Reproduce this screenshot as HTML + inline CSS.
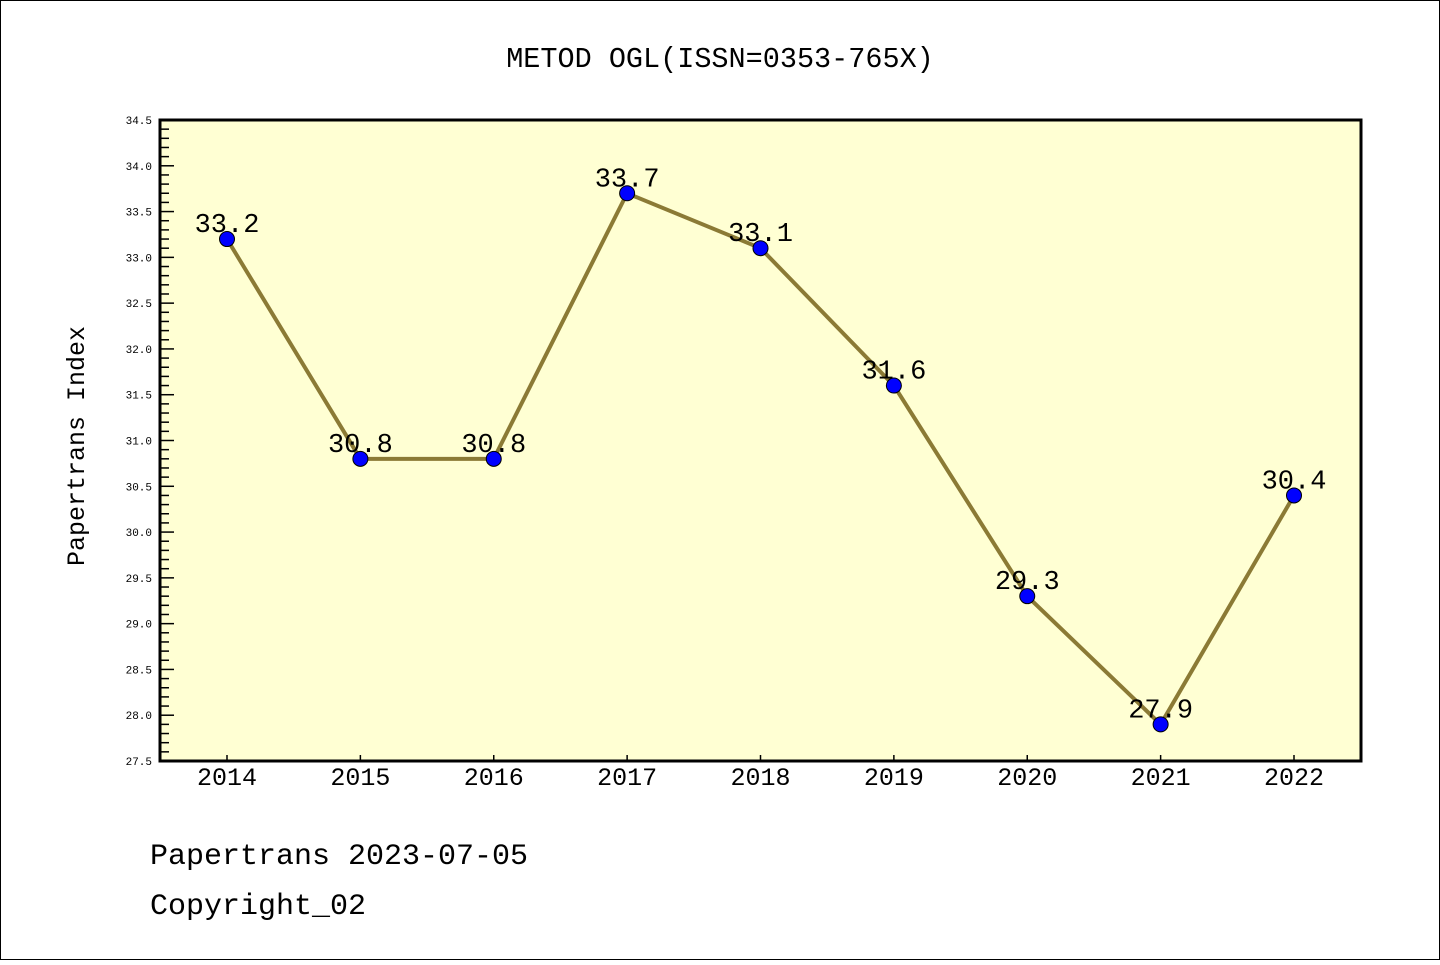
<!DOCTYPE html>
<html><head><meta charset="utf-8"><style>
body{margin:0;background:#fff}
svg text{font-family:"Liberation Mono","WenQuanYi Zen Hei",monospace}
</style></head><body>
<svg width="1440" height="960" xmlns="http://www.w3.org/2000/svg">
<rect x="0.5" y="0.5" width="1439" height="959" fill="#fff" stroke="#000"/>
<text x="720" y="67" font-size="28.5" text-anchor="middle">METOD OGL(ISSN=0353-765X)</text>
<rect x="160" y="120" width="1201" height="641" fill="#ffffd3"/>
<g id="axes"></g>
<g id="marks"></g>
<rect x="160" y="120" width="1201" height="641" fill="none" stroke="#000" stroke-width="3"/>
<text transform="translate(84,446) rotate(-90)" font-size="25" text-anchor="middle">Papertrans Index</text>
<text x="150" y="864" font-size="30">Papertrans 2023-07-05</text>
<text x="150" y="914" font-size="30">Copyright_02</text>
</svg>
<script>
const years=["2014","2015","2016","2017","2018","2019","2020","2021","2022"];
const values=[33.2,30.8,30.8,33.7,33.1,31.6,29.3,27.9,30.4];
const yTicks=["27.5","28.0","28.5","29.0","29.5","30.0","30.5","31.0","31.5","32.0","32.5","33.0","33.5","34.0","34.5"];
const NS="http://www.w3.org/2000/svg";
const yMin=27.5,yMax=34.5,plotTop=120,plotBot=761;
const y=v=>plotBot-(v-yMin)/(yMax-yMin)*(plotBot-plotTop);
const x=i=>227+i*133.375;
function mk(t,a,p){const e=document.createElementNS(NS,t);for(const k in a)e.setAttribute(k,a[k]);p.appendChild(e);return e;}
const ax=document.getElementById('axes'),mg=document.getElementById('marks');
for(let k=0;k<=70;k++){
  const v=yMin+k*0.1;
  const major=k%5===0;
  const l=mk('line',{x1:160,x2:160+(major?14:9),y1:y(v),y2:y(v),stroke:'#000','stroke-width':1.5},ax);
  
  
}
yTicks.forEach(t=>{
  const e=mk('text',{x:152,y:y(parseFloat(t))+4,'font-size':11,'text-anchor':'end'},ax);
  e.textContent=t;
  
  
});
years.forEach((t,i)=>{
  const l=mk('line',{x1:x(i),x2:x(i),y1:plotBot,y2:plotBot-6,stroke:'#000','stroke-width':1.5},ax);
  
  
  const e=mk('text',{x:x(i),y:785,'font-size':25,'text-anchor':'middle'},ax);
  e.textContent=t;
  
  
});
const pl=mk('polyline',{points:values.map((v,i)=>x(i)+','+y(v)).join(' '),fill:'none',stroke:'#8b7a35','stroke-width':4},mg);


values.forEach((v,i)=>{
  const c=mk('circle',{cx:x(i),cy:y(v),r:7.5,fill:'#0000ff',stroke:'#000','stroke-width':1},mg);
  
  
  const t=mk('text',{x:x(i),y:y(v)-7,'font-size':27,'text-anchor':'middle'},mg);
  t.textContent=v.toFixed(1);
  
  
});
</script>
</body></html>
